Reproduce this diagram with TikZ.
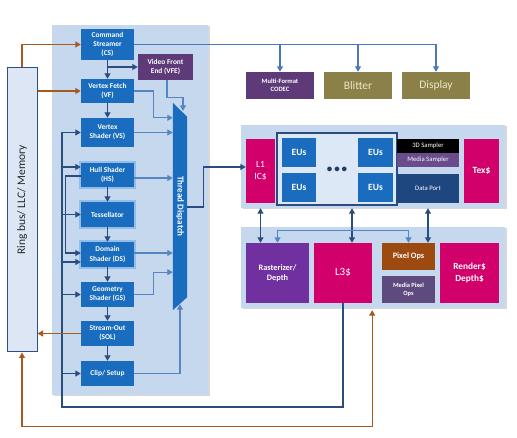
\documentclass[tikz,border=0pt]{standalone}
\usepackage{fontspec}
\setmainfont{Carlito}
\usetikzlibrary{arrows.meta,shadows,calc}
\definecolor{panelc}{HTML}{C6D8EE}
\definecolor{shblue}{HTML}{1A6DBE}
\definecolor{glowc}{HTML}{7FB4E8}
\definecolor{darkc}{HTML}{2B4C7E}
\definecolor{lightc}{HTML}{5585C2}
\definecolor{midc}{HTML}{4A78B8}
\definecolor{orc}{HTML}{A65A1E}
\definecolor{magc}{HTML}{D1006A}
\definecolor{vfec}{HTML}{5E3A78}
\definecolor{rastc}{HTML}{7030A0}
\definecolor{msampc}{HTML}{6A4C8C}
\definecolor{mpixc}{HTML}{5E4A7E}
\definecolor{dportc}{HTML}{1F477F}
\definecolor{pixc}{HTML}{9C4A10}
\definecolor{olivec}{HTML}{8B8048}
\definecolor{olivetxt}{HTML}{ECE8CC}
\definecolor{ringfill}{HTML}{DCE6F4}
\definecolor{ringdraw}{HTML}{2F4F80}
\definecolor{eugrp}{HTML}{DCE8F6}
\begin{document}
\begin{tikzpicture}[x=1pt,y=-1pt,
  panel/.style={fill=panelc, draw=none, inner sep=0pt,
    drop shadow={shadow xshift=1.5pt,shadow yshift=-1.5pt,opacity=0.3}},
  sbox/.style={fill=shblue, text=white, inner sep=0pt, align=center,
    font=\fontsize{7.4}{9.2}\selectfont\bfseries},
  cbox/.style={inner sep=0pt, align=center, text=white},
  glow/.style={preaction={draw=glowc, line width=3.5pt, opacity=0.75}},
  tip/.tip={Triangle[width=6pt,length=5.5pt]},
  darr/.style={draw=darkc, line width=1.1pt, -tip},
  darr2/.style={draw=darkc, line width=1.1pt, tip-tip},
  dline/.style={draw=darkc, line width=1.1pt},
  larr/.style={draw=lightc, line width=1.1pt, -tip},
  larr2/.style={draw=lightc, line width=1.1pt, tip-tip},
  marr/.style={draw=midc, line width=1.1pt, -tip},
  oarr/.style={draw=orc, line width=1.1pt, -tip},
  oarr2/.style={draw=orc, line width=1.1pt, tip-tip},
]
\useasboundingbox (0,0) rectangle (517,438);
\fill[white] (0,0) rectangle (517,438);

% panels
\node[panel, minimum width=156pt, minimum height=370pt] (lp) at (130,210) {};
\node[panel, minimum width=264pt, minimum height=83pt] (topp) at (373,166.5) {};
\node[panel, minimum width=264pt, minimum height=81pt] (lowp) at (373,267.5) {};

% ring bus
\node[fill=ringfill, draw=ringdraw, line width=1pt, minimum width=30pt, minimum height=284pt, inner sep=0pt] (ring) at (22,210) {};
\node[rotate=90, font=\fontsize{11.5}{12}\selectfont, text=black!85] (ringtxt) at ([yshift=10pt]ring.center) {Ring bus/ LLC/ Memory};

% pipeline boxes
\node[sbox, minimum width=53pt, minimum height=31pt] (cs) at (107.5,44.5) {Command\\Streamer\\(CS)};
\node[sbox, fill=vfec, minimum width=55pt, minimum height=26pt] (vfe) at (165.5,67) {Video Front\\End (VFE)};
\node[sbox, minimum width=53pt, minimum height=24pt] (vf) at (107.5,91) {Vertex Fetch\\(VF)};
\node[sbox, minimum width=53pt, minimum height=29pt] (vs) at (107.5,132.5) {Vertex\\Shader (VS)};
\node[sbox, glow, minimum width=53pt, minimum height=24pt] (hs) at (107.5,175) {Hull Shader\\(HS)};
\node[sbox, glow, minimum width=53pt, minimum height=25pt] (tess) at (107.5,214.5) {Tessellator};
\node[sbox, glow, minimum width=53pt, minimum height=25pt] (ds) at (107.5,254.5) {Domain\\Shader (DS)};
\node[sbox, minimum width=53pt, minimum height=25pt] (gs) at (107.5,294.5) {Geometry\\Shader (GS)};
\node[sbox, minimum width=53pt, minimum height=25pt] (sol) at (107.5,333.5) {Stream-Out\\(SOL)};
\node[sbox, minimum width=53pt, minimum height=25pt] (clip) at (107.5,373.5) {Clip/ Setup};

% thread dispatch
\node[minimum width=14pt, minimum height=207pt, inner sep=0pt] (td) at (180,206.5) {};
\fill[shblue] (td.north west) -- ([yshift=-14pt]td.north east) -- ([yshift=13pt]td.south east) -- (td.south west) -- cycle;
\node[rotate=-90, text=white, font=\fontsize{9}{10}\selectfont\bfseries] (tdtxt) at (td.center) {Thread Dispatch};

% top-right units
\node[cbox, fill=vfec, minimum width=68pt, minimum height=27pt, font=\fontsize{6.6}{8}\selectfont\bfseries] (codec) at (280,85.5) {Multi-Format\\CODEC};
\node[cbox, fill=olivec, text=olivetxt, minimum width=68pt, minimum height=27pt, font=\fontsize{11.5}{13}\selectfont] (blit) at (358,85.5) {Blitter};
\node[cbox, fill=olivec, text=olivetxt, minimum width=68pt, minimum height=27pt, font=\fontsize{11.5}{13}\selectfont] (disp) at (436,85.5) {Display};

% subslice
\node[cbox, fill=magc, minimum width=29pt, minimum height=64pt, font=\fontsize{9.5}{11.5}\selectfont] (l1) at (260.5,171) {L1\\IC\$};
\node[fill=eugrp, draw=darkc, line width=1.2pt, minimum width=120pt, minimum height=72pt, inner sep=0pt] (eug) at (337,169) {};
\node[sbox, minimum width=34pt, minimum height=29pt, font=\fontsize{9.5}{11}\selectfont\bfseries] (eu1) at (299,152.5) {EUs};
\node[sbox, minimum width=34pt, minimum height=29pt, font=\fontsize{9.5}{11}\selectfont\bfseries] (eu2) at (299,187.5) {EUs};
\node[sbox, minimum width=35pt, minimum height=29pt, font=\fontsize{9.5}{11}\selectfont\bfseries] (eu3) at (375.5,152.5) {EUs};
\node[sbox, minimum width=35pt, minimum height=29pt, font=\fontsize{9.5}{11}\selectfont\bfseries] (eu4) at (375.5,187.5) {EUs};
\node[text=darkc!80!black, font=\fontsize{11}{12}\selectfont\bfseries, inner sep=0pt] (dots) at (337,170) {\textbullet\,\textbullet\,\textbullet};
\node[cbox, fill=black, minimum width=62pt, minimum height=14pt, font=\fontsize{6.7}{8}\selectfont] (s3d) at (428,146) {3D Sampler};
\node[cbox, fill=msampc, minimum width=62pt, minimum height=14pt, font=\fontsize{6.7}{8}\selectfont] (msamp) at (428,160) {Media Sampler};
\node[cbox, fill=dportc, minimum width=62pt, minimum height=29pt, font=\fontsize{6.7}{8}\selectfont] (dp) at (428,188.5) {Data Port};
\node[cbox, fill=magc, minimum width=35pt, minimum height=64pt, font=\fontsize{9.5}{11}\selectfont\bfseries] (tex) at (481.5,171) {Tex\$};

% lower slice
\node[cbox, fill=rastc, minimum width=63pt, minimum height=60pt, font=\fontsize{8.3}{10.3}\selectfont\bfseries] (rast) at (277.5,273) {Rasterizer/\\Depth};
\node[cbox, fill=magc, minimum width=58pt, minimum height=60pt, font=\fontsize{11}{13}\selectfont] (l3) at (343,273) {L3\$};
\node[cbox, fill=pixc, minimum width=53pt, minimum height=27pt, font=\fontsize{8.3}{10}\selectfont\bfseries] (pix) at (408.5,256.5) {Pixel Ops};
\node[cbox, fill=mpixc, minimum width=53pt, minimum height=27pt, font=\fontsize{6.4}{8.2}\selectfont\bfseries] (mpix) at (408.5,289.5) {Media Pixel\\Ops};
\node[cbox, fill=magc, minimum width=59pt, minimum height=60pt, font=\fontsize{9.3}{11.3}\selectfont\bfseries] (rend) at (469.5,273) {Render\$\\Depth\$};

% pipeline flow
\draw[darr] (cs.south) -- (vf.north);
\draw[darr] (cs.south |- vfe.west) -- (vfe.west);
\draw[darr] (vf.south) -- (vs.north);
\draw[darr] (hs.south) -- (tess.north);
\draw[darr] (tess.south) -- (ds.north);
\draw[darr] (ds.south) -- (gs.north);
\draw[darr] (gs.south) -- (sol.north);
\draw[darr] (sol.south) -- (clip.north);

% CS to media/blitter/display
\draw[marr] (cs.east) -| (disp.north);
\draw[marr] (codec.north |- cs.east) -- (codec.north);
\draw[marr] (blit.north |- cs.east) -- (blit.north);

% into thread dispatch
\draw[larr] ([xshift=1.5pt]vfe.south) -- ++(0,17) -| ([xshift=3pt,yshift=-8pt]td.north);
\draw[larr] (vf.east) -- ++(19,0) |- ([yshift=-15pt]td.north west);
\draw[larr] (vs.east) -- (vs.east -| td.west);
\coordinate (hsr) at ([yshift=-3pt]hs.east);
\draw[larr] (hsr) -- (hsr -| td.west);
\coordinate (dsr) at ([yshift=1.5pt]ds.east);
\draw[larr] (dsr) -- (dsr -| td.west);
\draw[larr] (gs.east) -- ++(19,0) |- ([yshift=38pt]td.south west);
\draw[larr] (clip.east) -| ([yshift=6pt]td.south);

% thread dispatch to L1
\draw[darr] ([yshift=-0.5pt]td.east) -- ++(16,0) |- ([yshift=4pt]l1.west);

% feedback from L3
\coordinate (fbx) at (62,407);
\draw[dline] (l3.south) |- (fbx) -- (fbx |- vs.west);
\draw[darr] (fbx |- vs.west) -- (vs.west);
\coordinate (hsin) at ([yshift=8pt]hs.west);
\draw[darr] (fbx |- hsin) -- (hsin);
\draw[darr] (fbx |- tess.west) -- (tess.west);
\coordinate (dsin2) at ([yshift=-7.5pt]ds.west);
\draw[darr] (fbx |- dsin2) -- (dsin2);
\draw[darr] (fbx |- gs.west) -- (gs.west);
\draw[darr] (fbx |- clip.west) -- (clip.west);
\coordinate (hsout) at ([yshift=-1pt]hs.west);
\coordinate (dsin1) at ([yshift=1.5pt]ds.west);
\draw[darr] (hsout) -- ++(-15,0) |- (dsin1);

% memory (orange)
\draw[oarr] (ring.north) |- (cs.west);
\draw[oarr] (ring.east |- vf.west) -- (vf.west);
\draw[oarr] (sol.west) -- (sol.west -| ring.east);
\draw[oarr2] (ring.south) -- ++(0,74) -| ([yshift=-2pt]l3.east |- lowp.south);

% between slices
\draw[darr2] (l1.south |- topp.south) -- (l1.south |- rast.north);
\coordinate (l3n) at ([xshift=9pt]l3.north);
\draw[darr2] (l3n |- topp.south) -- (l3n);
\draw[darr2] (dp.south |- topp.south) -- (dp.south |- pix.north);
\draw[larr2] (rast.north) -- ++(0,-12) -| (pix.north);
\end{tikzpicture}
\end{document}
